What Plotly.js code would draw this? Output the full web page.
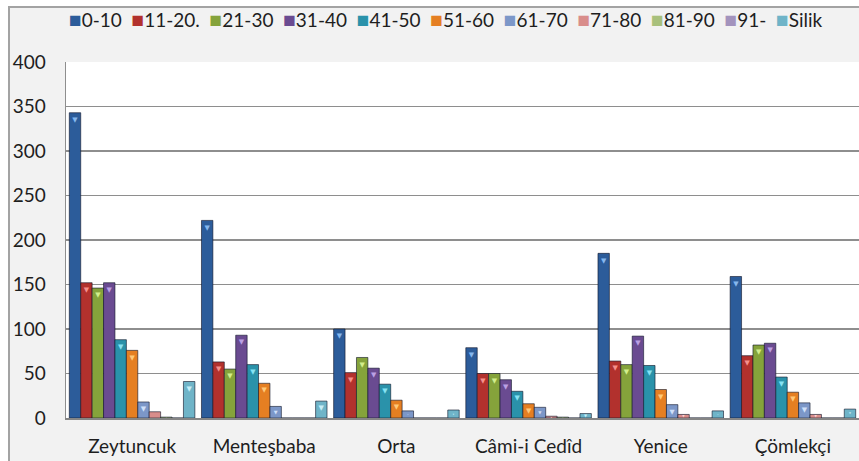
<!DOCTYPE html>
<html>
<head>
<meta charset="utf-8">
<script src="https://cdn.plot.ly/plotly-3.0.1.min.js"></script>
<style>
  html, body { margin: 0; padding: 0; background: #ffffff; width: 859px; height: 461px; overflow: hidden; }
  #frame { position: absolute; left: 8px; top: 6px; width: 860px; height: 470px;
           border-left: 2px solid #a3a3a3; border-top: 2px solid #a3a3a3; background: #f2f2f2; }
  #chart { position: absolute; left: 0; top: 0; width: 859px; height: 461px; }
</style>
</head>
<body>
<div id="frame"></div>
<div id="chart"></div>
<script>
// ---- data ----
const categories = ['Zeytuncuk', 'Menteşbaba', 'Orta', 'Câmi-i Cedîd', 'Yenice', 'Çömlekçi'];
const seriesNames = ['0-10', '11-20.', '21-30', '31-40', '41-50', '51-60', '61-70', '71-80', '81-90', '91-', 'Silik'];
const v0_10  = [343, 222, 100, 79, 185, 159];
const v11_20 = [152, 63, 51, 50, 64, 70];
const v21_30 = [146, 55, 68, 50, 60, 82];
const v31_40 = [152, 93, 56, 43, 92, 84];
const v41_50 = [88, 60, 38, 30, 59, 46];
const v51_60 = [76, 39, 20, 16, 32, 29];
const v61_70 = [18, 13, 8, 12, 15, 17];
const v71_80 = [7, 0, 0, 2, 4, 4];
const v81_90 = [1, 0, 0, 1, 0, 0];
const v91    = [0, 0, 0, 0, 0, 0];
const vSilik = [41, 19, 9, 5, 8, 10];
const yTicks = [0, 50, 100, 150, 200, 250, 300, 350, 400];

// ---- styles ----
const seriesValues = [v0_10, v11_20, v21_30, v31_40, v41_50, v51_60, v61_70, v71_80, v81_90, v91, vSilik];
const colors = ['#2c5c9a', '#b2312d', '#85a33b', '#6a4b91', '#2a92aa', '#e57f22',
                '#7c97c8', '#d98d8b', '#a8c07c', '#a393bd', '#6fb4c8'];
const tints  = ['#86b7ee', '#f5908c', '#d2ee8c', '#bba0e4', '#86e2f3', '#ffc878',
                '#d0e0fa', '#f9d2d1', '#e6f4c2', '#e0d6f2', '#c6eef8'];
const FONT = 'Lato, "Open Sans", sans-serif';
const FS = 19;

const traces = seriesNames.map((name, i) => ({
  type: 'bar',
  name: name,
  x: categories,
  y: seriesValues[i],
  marker: { color: colors[i], line: { color: 'rgba(15,20,40,0.6)', width: 1 } },
  text: seriesValues[i].map(v => v > 0 ? '▼' : ''),
  textposition: 'inside',
  insidetextanchor: 'end',
  textangle: 0,
  textfont: { size: 9, color: tints[i], family: 'DejaVu Sans' },
  hoverinfo: 'skip',
  showlegend: false
}));

// legend as one text line built from names and colors
const NB = '\u00a0';
const legendText = seriesNames.map((n, i) =>
  '<span style="color:' + colors[i] + ';font-size:21px">■</span>' + n).join(NB + NB);

const layout = {
  width: 859, height: 461,
  margin: { l: 66, r: 0, t: 62, b: 43, pad: 0 },
  paper_bgcolor: 'rgba(0,0,0,0)',
  plot_bgcolor: '#ffffff',
  barmode: 'group',
  bargap: 0.05,
  bargroupgap: 0,
  showlegend: false,
  font: { family: FONT, size: FS, color: '#1e1e1e' },
  xaxis: {
    type: 'category',
    showline: true, linecolor: '#858585', linewidth: 2,
    ticks: '', showgrid: false, zeroline: false,
    tickfont: { family: FONT, size: FS, color: '#1e1e1e' },
    ticklabelstandoff: 10,
    fixedrange: true
  },
  yaxis: {
    range: [0, 400],
    tickvals: yTicks,
    ticktext: yTicks.map(String),
    showgrid: true, gridcolor: '#8e8e8e', gridwidth: 1.5,
    showline: true, linecolor: '#8e8e8e', linewidth: 1.5,
    zeroline: false, ticks: '',
    tickfont: { family: FONT, size: FS, color: '#1e1e1e' },
    ticklabelstandoff: 15,
    fixedrange: true
  },
  annotations: [{
    xref: 'paper', yref: 'paper',
    x: 0.4786, y: 1.121, xanchor: 'center', yanchor: 'middle',
    text: legendText, showarrow: false,
    font: { family: FONT, size: FS, color: '#1e1e1e' }
  }]
};

Plotly.newPlot('chart', traces, layout, { displayModeBar: false, staticPlot: true });
</script>
</body>
</html>
